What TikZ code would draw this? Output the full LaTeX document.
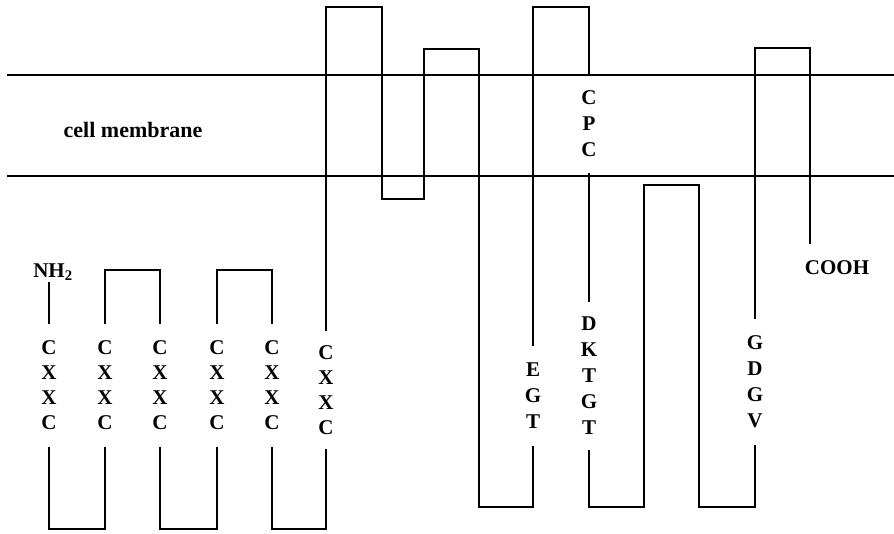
\documentclass[tikz,border=0pt]{standalone}
\usepackage{fontspec}
\setmainfont{Liberation Serif}
\usepackage{tikz}
\usetikzlibrary{positioning}

\tikzset{
  chain/.style={line width=2.1pt},
  seq/.style={font=\fontsize{21}{26}\selectfont\bfseries,align=center,inner sep=0pt,outer ysep=17pt},
  cys/.style={seq,font=\fontsize{21}{25}\selectfont\bfseries}
}

\begin{document}
\begin{tikzpicture}[x=1pt,y=-1pt]
  \useasboundingbox (0,0) rectangle (894,533);
  % membrane
  \draw[chain] (7,75) -- (894,75);
  \draw[chain] (7,176) -- (894,176);
  \node[font=\fontsize{22}{26}\selectfont\bfseries] (mem) at (133,130) {cell membrane};

  \coordinate (hi) at (0,270);
  \coordinate (lo) at (0,529);

  % residue groups
  \node[seq,outer ysep=2pt] (nh2) at (53,272) {NH$_\mathbf{2}$};
  \node[cys] (c1) at (49,385.5)  {C\\X\\X\\C};
  \node[cys] (c2) at (105,385.5) {C\\X\\X\\C};
  \node[cys] (c3) at (160,385.5) {C\\X\\X\\C};
  \node[cys] (c4) at (217,385.5) {C\\X\\X\\C};
  \node[cys] (c5) at (272,385.5) {C\\X\\X\\C};
  \node[cys,outer ysep=14pt] (c6) at (326,390) {C\\X\\X\\C};
  \node[seq] (egt) at (533,396) {E\\G\\T};
  \node[seq,outer ysep=16pt] (cpc) at (589,124) {C\\P\\C};
  \node[seq,outer ysep=15pt] (dktgt) at (589,376) {D\\K\\T\\G\\T};
  \node[seq] (gdgv) at (755,382) {G\\D\\G\\V};
  \node[seq] (cooh) at (837,268) {COOH};

  % chain
  \draw[chain] (nh2.south -| c1.north) -- (c1.north);
  \draw[chain] (c1.south) |- (c2.south |- lo) -- (c2.south);
  \draw[chain] (c2.north) |- (c3.north |- hi) -- (c3.north);
  \draw[chain] (c3.south) |- (c4.south |- lo) -- (c4.south);
  \draw[chain] (c4.north) |- (c5.north |- hi) -- (c5.north);
  \draw[chain] (c5.south) |- (c6.south |- lo) -- (c6.south);
  \draw[chain] (c6.north) |- (382,7) |- (424,199) |- (479,49) |- (533,507) -- (egt.south);
  \draw[chain] (egt.north) |- (589,7) -- (cpc.north);
  \draw[chain] (cpc.south) -- (dktgt.north);
  \draw[chain] (dktgt.south) |- (644,507) |- (699,185) |- (755,507) -- (gdgv.south);
  \draw[chain] (gdgv.north) |- (810,48) -- (cooh.north -| 810,0);
\end{tikzpicture}
\end{document}
